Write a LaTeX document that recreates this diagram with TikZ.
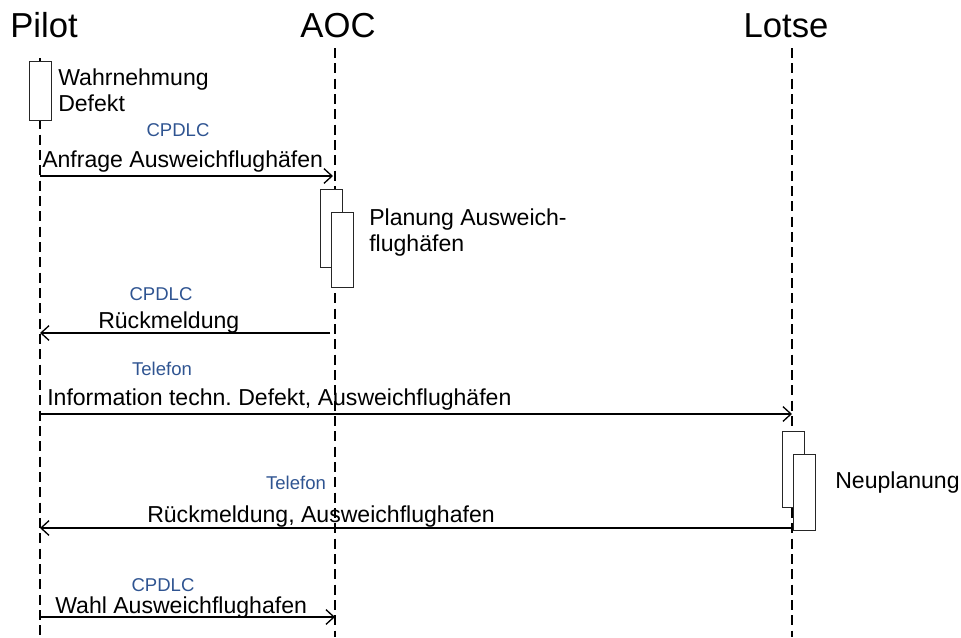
\documentclass[tikz,border=0pt]{standalone}
\usepackage{fontspec}
\setmainfont{Liberation Sans}
\usetikzlibrary{arrows.meta}
\definecolor{chanblue}{RGB}{47,84,145}
\frenchspacing
\tikzset{
  lifeline/.style={line width=1.5pt, dash pattern=on 7.5pt off 4pt},
  actbox/.style={draw=black!85, line width=0.6pt, fill=white},
  msg/.style={line width=1pt, -{Straight Barb[length=6pt,width=11pt,line width=1pt]}},
  actor/.style={font=\fontsize{26}{29}\selectfont, anchor=base},
  lbl/.style={font=\fontsize{17.3}{20}\selectfont, anchor=base west, inner sep=0pt},
  chan/.style={font=\fontsize{13.9}{16}\selectfont, text=chanblue, anchor=base, inner sep=0pt}
}
\begin{document}
\begin{tikzpicture}[x=0.75pt, y=-0.75pt]
\useasboundingbox (0,0) rectangle (961,637);

% actors
\node[actor] (pilot) at (44,37) {Pilot};
\node[actor] (aoc) at (338,37) {AOC};
\node[actor] (lotse) at (786,37) {Lotse};

% lifelines
\coordinate (pTop) at (40,58);  \coordinate (pBot) at (40,637);
\coordinate (aTop) at (335,48); \coordinate (aBot) at (335,637);
\coordinate (lTop) at (792,48); \coordinate (lBot) at (792,637);
\draw[lifeline] (pTop) -- (pBot);
\draw[lifeline] (aTop) -- (aBot);
\draw[lifeline] (lTop) -- (lBot);

% activation boxes
\draw[actbox] (29,61) rectangle (51,120);
\node[lbl] (wahr) at (58,85) {Wahrnehmung};
\node[lbl] (defekt) at (58,111) {Defekt};

\draw[actbox] (320,189) rectangle (342,267);
\draw[actbox] (331,212) rectangle (353,287);
\node[lbl] (plan1) at (369,225) {Planung Ausweich-};
\node[lbl] (plan2) at (369,251) {flughäfen};

\draw[actbox] (782,431) rectangle (804,507);
\draw[actbox] (793,454) rectangle (815,530);
\node[lbl] (neu) at (835,488) {Neuplanung};

% message 1
\coordinate (m1s) at (40,176);  \coordinate (m1e) at (333,176);
\draw[msg] (m1s) -- (m1e);
\node[chan] (c1) at (178,136) {CPDLC};
\node[lbl] (t1) at (42,167) {Anfrage Ausweichflughäfen};

% message 2
\coordinate (m2s) at (330,333); \coordinate (m2e) at (40,333);
\draw[msg] (m2s) -- (m2e);
\node[chan] (c2) at (161,300) {CPDLC};
\node[lbl] (t2) at (98,328) {Rückmeldung};

% message 3
\coordinate (m3s) at (40,414);  \coordinate (m3e) at (792,414);
\draw[msg] (m3s) -- (m3e);
\node[chan] (c3) at (162,375) {Telefon};
\node[lbl] (t3) at (47,405) {Information techn. Defekt, Ausweichflughäfen};

% message 4
\coordinate (m4s) at (793,528); \coordinate (m4e) at (40,528);
\draw[msg] (m4s) -- (m4e);
\node[chan] (c4) at (296,489) {Telefon};
\node[lbl] (t4) at (147,522) {Rückmeldung, Ausweichflughafen};

% message 5
\coordinate (m5s) at (40,617);  \coordinate (m5e) at (335,617);
\draw[msg] (m5s) -- (m5e);
\node[chan] (c5) at (163,591) {CPDLC};
\node[lbl] (t5) at (55,613) {Wahl Ausweichflughafen};
\end{tikzpicture}
\end{document}
